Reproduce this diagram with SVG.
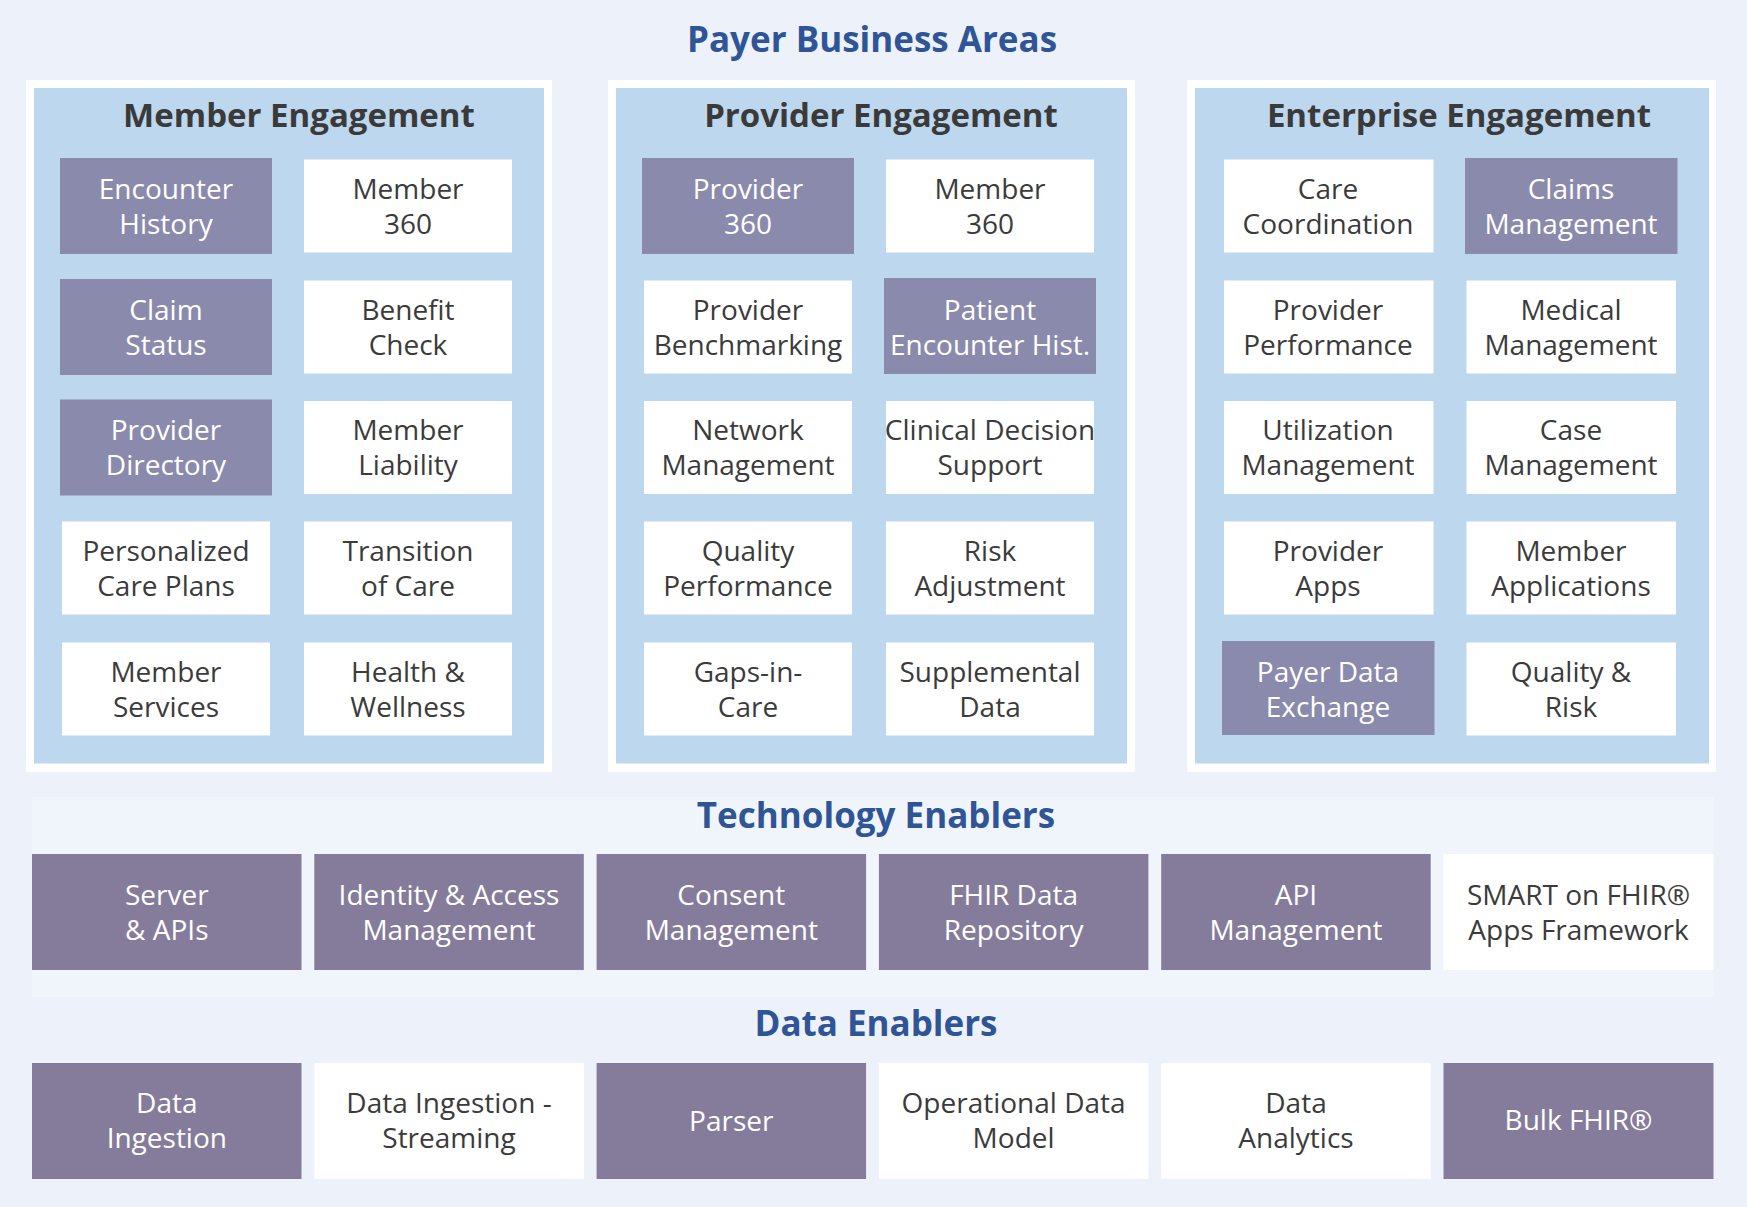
<svg xmlns="http://www.w3.org/2000/svg" width="1747" height="1207" viewBox="0 0 1747 1207">
<style>
.bg{fill:#edf2fa}
.band{fill:#f0f5fc}
.frame{fill:#ffffff}
.panel{fill:#bdd7ee}
.pp{fill:#8a8aad}
.tp{fill:#857c9b}
.wb{fill:#ffffff}
text{font-family:"Open Sans","Noto Sans","Liberation Sans",sans-serif;text-anchor:middle}
.h{font-size:35px;font-weight:700;fill:#2f5597}
.t{font-size:33px;font-weight:700;fill:#3a3a3a}
.lw{font-size:28px;fill:#ffffff}
.ld{font-size:28px;fill:#3b3b3b}
</style>
<rect class="bg" x="0" y="0" width="1747" height="1207"/>

<g id="heading-payer"><text class="h" x="872" y="52">Payer Business Areas</text></g>

<!-- Member Engagement -->
<g id="member-engagement">
<rect class="frame" x="26" y="80" width="526" height="692"/>
<rect class="panel" x="34" y="88" width="510" height="675.5"/>
<text class="t" x="299" y="127">Member Engagement</text>
</g>
<g id="encounter-history"><rect class="pp" x="60" y="158" width="212" height="96"/><text class="lw"><tspan x="166" y="199">Encounter</tspan><tspan x="166" y="234">History</tspan></text></g>
<g id="member-360-a"><rect class="wb" x="304" y="159.5" width="208" height="93"/><text class="ld"><tspan x="408" y="199">Member</tspan><tspan x="408" y="234">360</tspan></text></g>
<g id="claim-status"><rect class="pp" x="60" y="279" width="212" height="96"/><text class="lw"><tspan x="166" y="320">Claim</tspan><tspan x="166" y="355">Status</tspan></text></g>
<g id="benefit-check"><rect class="wb" x="304" y="280.5" width="208" height="93"/><text class="ld"><tspan x="408" y="320">Benefit</tspan><tspan x="408" y="355">Check</tspan></text></g>
<g id="provider-directory"><rect class="pp" x="60" y="399.5" width="212" height="96"/><text class="lw"><tspan x="166" y="440">Provider</tspan><tspan x="166" y="475">Directory</tspan></text></g>
<g id="member-liability"><rect class="wb" x="304" y="401" width="208" height="93"/><text class="ld"><tspan x="408" y="440">Member</tspan><tspan x="408" y="475">Liability</tspan></text></g>
<g id="personalized-care-plans"><rect class="wb" x="62" y="521.5" width="208" height="93"/><text class="ld"><tspan x="166" y="561">Personalized</tspan><tspan x="166" y="596">Care Plans</tspan></text></g>
<g id="transition-of-care"><rect class="wb" x="304" y="521.5" width="208" height="93"/><text class="ld"><tspan x="408" y="561">Transition</tspan><tspan x="408" y="596">of Care</tspan></text></g>
<g id="member-services"><rect class="wb" x="62" y="642.5" width="208" height="93"/><text class="ld"><tspan x="166" y="682">Member</tspan><tspan x="166" y="717">Services</tspan></text></g>
<g id="health-wellness"><rect class="wb" x="304" y="642.5" width="208" height="93"/><text class="ld"><tspan x="408" y="682">Health &amp;</tspan><tspan x="408" y="717">Wellness</tspan></text></g>

<!-- Provider Engagement -->
<g id="provider-engagement">
<rect class="frame" x="608" y="80" width="527" height="692"/>
<rect class="panel" x="616" y="88" width="511" height="675.5"/>
<text class="t" x="881" y="127">Provider Engagement</text>
</g>
<g id="provider-360"><rect class="pp" x="642" y="158" width="212" height="96"/><text class="lw"><tspan x="748" y="199">Provider</tspan><tspan x="748" y="234">360</tspan></text></g>
<g id="member-360-b"><rect class="wb" x="886" y="159.5" width="208" height="93"/><text class="ld"><tspan x="990" y="199">Member</tspan><tspan x="990" y="234">360</tspan></text></g>
<g id="provider-benchmarking"><rect class="wb" x="644" y="280.5" width="208" height="93"/><text class="ld"><tspan x="748" y="320">Provider</tspan><tspan x="748" y="355">Benchmarking</tspan></text></g>
<g id="patient-encounter-hist"><rect class="pp" x="884" y="278" width="212" height="96"/><text class="lw"><tspan x="990" y="320">Patient</tspan><tspan x="990" y="355">Encounter Hist.</tspan></text></g>
<g id="network-management"><rect class="wb" x="644" y="401" width="208" height="93"/><text class="ld"><tspan x="748" y="440">Network</tspan><tspan x="748" y="475">Management</tspan></text></g>
<g id="clinical-decision-support"><rect class="wb" x="886" y="401" width="208" height="93"/><text class="ld"><tspan x="990" y="440">Clinical Decision</tspan><tspan x="990" y="475">Support</tspan></text></g>
<g id="quality-performance"><rect class="wb" x="644" y="521.5" width="208" height="93"/><text class="ld"><tspan x="748" y="561">Quality</tspan><tspan x="748" y="596">Performance</tspan></text></g>
<g id="risk-adjustment"><rect class="wb" x="886" y="521.5" width="208" height="93"/><text class="ld"><tspan x="990" y="561">Risk</tspan><tspan x="990" y="596">Adjustment</tspan></text></g>
<g id="gaps-in-care"><rect class="wb" x="644" y="642.5" width="208" height="93"/><text class="ld"><tspan x="748" y="682">Gaps-in-</tspan><tspan x="748" y="717">Care</tspan></text></g>
<g id="supplemental-data"><rect class="wb" x="886" y="642.5" width="208" height="93"/><text class="ld"><tspan x="990" y="682">Supplemental</tspan><tspan x="990" y="717">Data</tspan></text></g>

<!-- Enterprise Engagement -->
<g id="enterprise-engagement">
<rect class="frame" x="1187.5" y="80" width="528.5" height="692"/>
<rect class="panel" x="1195" y="88" width="514" height="675.5"/>
<text class="t" x="1459" y="127">Enterprise Engagement</text>
</g>
<g id="care-coordination"><rect class="wb" x="1224" y="159.5" width="209.5" height="93"/><text class="ld"><tspan x="1328" y="199">Care</tspan><tspan x="1328" y="234">Coordination</tspan></text></g>
<g id="claims-management"><rect class="pp" x="1465" y="158" width="212.5" height="96"/><text class="lw"><tspan x="1571" y="199">Claims</tspan><tspan x="1571" y="234">Management</tspan></text></g>
<g id="provider-performance"><rect class="wb" x="1224" y="280.5" width="209.5" height="93"/><text class="ld"><tspan x="1328" y="320">Provider</tspan><tspan x="1328" y="355">Performance</tspan></text></g>
<g id="medical-management"><rect class="wb" x="1466.5" y="280.5" width="209.5" height="93"/><text class="ld"><tspan x="1571" y="320">Medical</tspan><tspan x="1571" y="355">Management</tspan></text></g>
<g id="utilization-management"><rect class="wb" x="1224" y="401" width="209.5" height="93"/><text class="ld"><tspan x="1328" y="440">Utilization</tspan><tspan x="1328" y="475">Management</tspan></text></g>
<g id="case-management"><rect class="wb" x="1466.5" y="401" width="209.5" height="93"/><text class="ld"><tspan x="1571" y="440">Case</tspan><tspan x="1571" y="475">Management</tspan></text></g>
<g id="provider-apps"><rect class="wb" x="1224" y="521.5" width="209.5" height="93"/><text class="ld"><tspan x="1328" y="561">Provider</tspan><tspan x="1328" y="596">Apps</tspan></text></g>
<g id="member-applications"><rect class="wb" x="1466.5" y="521.5" width="209.5" height="93"/><text class="ld"><tspan x="1571" y="561">Member</tspan><tspan x="1571" y="596">Applications</tspan></text></g>
<g id="payer-data-exchange"><rect class="pp" x="1222" y="641" width="212.5" height="94"/><text class="lw"><tspan x="1328" y="682">Payer Data</tspan><tspan x="1328" y="717">Exchange</tspan></text></g>
<g id="quality-risk"><rect class="wb" x="1466.5" y="642.5" width="209.5" height="93"/><text class="ld"><tspan x="1571" y="682">Quality &amp;</tspan><tspan x="1571" y="717">Risk</tspan></text></g>

<!-- Technology Enablers -->
<rect class="band" x="32" y="797" width="1682" height="200"/>
<g id="heading-technology"><text class="h" x="876" y="828">Technology Enablers</text></g>
<g id="server-apis"><rect class="tp" x="32" y="854" width="269.5" height="116"/><text class="lw"><tspan x="166.8" y="905">Server</tspan><tspan x="166.8" y="940">&amp; APIs</tspan></text></g>
<g id="identity-access"><rect class="tp" x="314.3" y="854" width="269.5" height="116"/><text class="lw"><tspan x="449" y="905">Identity &amp; Access</tspan><tspan x="449" y="940">Management</tspan></text></g>
<g id="consent-management"><rect class="tp" x="596.6" y="854" width="269.5" height="116"/><text class="lw"><tspan x="731.3" y="905">Consent</tspan><tspan x="731.3" y="940">Management</tspan></text></g>
<g id="fhir-data-repository"><rect class="tp" x="878.9" y="854" width="269.5" height="116"/><text class="lw"><tspan x="1013.6" y="905">FHIR Data</tspan><tspan x="1013.6" y="940">Repository</tspan></text></g>
<g id="api-management"><rect class="tp" x="1161.2" y="854" width="269.5" height="116"/><text class="lw"><tspan x="1296" y="905">API</tspan><tspan x="1296" y="940">Management</tspan></text></g>
<g id="smart-on-fhir"><rect class="wb" x="1443.5" y="854" width="270" height="116"/><text class="ld"><tspan x="1578.5" y="905">SMART on FHIR®</tspan><tspan x="1578.5" y="940">Apps Framework</tspan></text></g>

<!-- Data Enablers -->
<g id="heading-data"><text class="h" x="876" y="1036">Data Enablers</text></g>
<g id="data-ingestion"><rect class="tp" x="32" y="1063" width="269.5" height="116"/><text class="lw"><tspan x="166.8" y="1113">Data</tspan><tspan x="166.8" y="1148">Ingestion</tspan></text></g>
<g id="data-ingestion-streaming"><rect class="wb" x="314.3" y="1063" width="269.5" height="116"/><text class="ld"><tspan x="449" y="1113">Data Ingestion -</tspan><tspan x="449" y="1148">Streaming</tspan></text></g>
<g id="parser"><rect class="tp" x="596.6" y="1063" width="269.5" height="116"/><text class="lw" x="731.3" y="1131">Parser</text></g>
<g id="operational-data-model"><rect class="wb" x="878.9" y="1063" width="269.5" height="116"/><text class="ld"><tspan x="1013.6" y="1113">Operational Data</tspan><tspan x="1013.6" y="1148">Model</tspan></text></g>
<g id="data-analytics"><rect class="wb" x="1161.2" y="1063" width="269.5" height="116"/><text class="ld"><tspan x="1296" y="1113">Data</tspan><tspan x="1296" y="1148">Analytics</tspan></text></g>
<g id="bulk-fhir"><rect class="tp" x="1443.5" y="1063" width="270" height="116"/><text class="lw" x="1578.5" y="1130">Bulk FHIR®</text></g>

<g id="connectors"></g>
</svg>
